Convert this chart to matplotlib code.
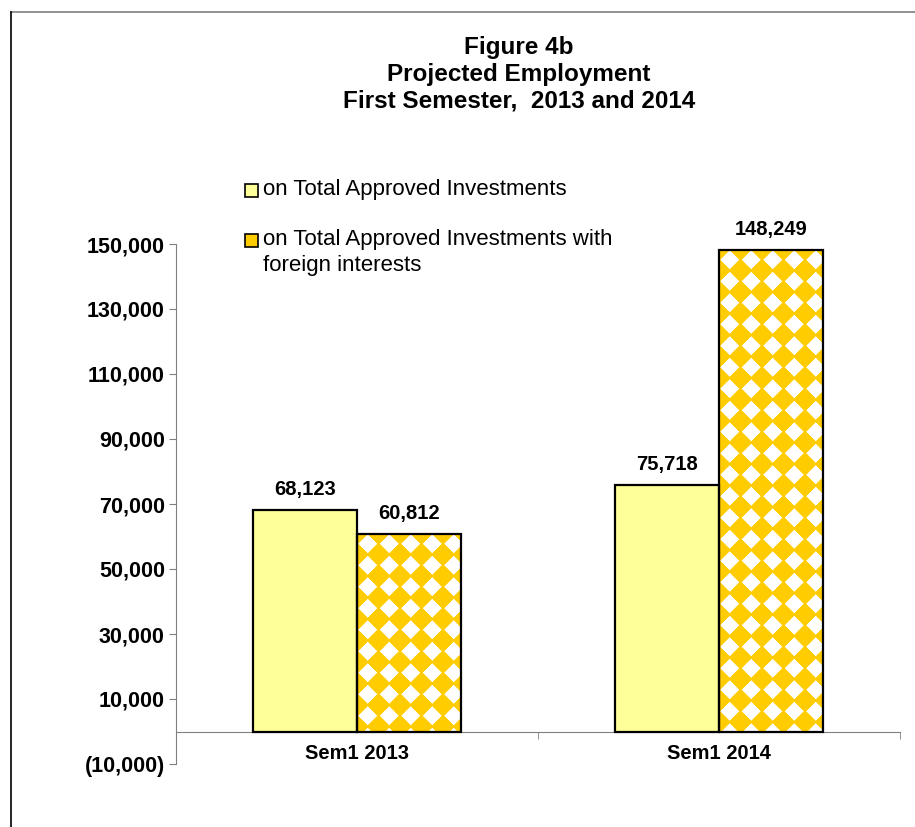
import numpy as np
import matplotlib
matplotlib.use("Agg")
import matplotlib.pyplot as plt
from matplotlib.lines import Line2D
from matplotlib.patches import Rectangle

plt.rcParams['font.family'] = ['Liberation Sans', 'DejaVu Sans']

# data
categories = ["Sem1 2013", "Sem1 2014"]
total_approved = [68123, 75718]
foreign_interests = [60812, 148249]
series_names = ["on Total Approved Investments",
                "on Total Approved Investments with\nforeign interests"]
yticks = list(range(-10000, 150001, 20000))

light_yellow = "#FFFF99"
gold = "#FFCC00"
gray = "#808080"

W, H = 915, 827
fig = plt.figure(figsize=(W / 100, H / 100), dpi=100)
ax = fig.add_axes([176 / W, 1 - 764 / H, (900 - 176) / W, (764 - 244) / H])
ax.set_xlim(-0.5, 1.5)
ax.set_ylim(-10000, 150000)

x = np.arange(len(categories))
bw = 0.286
b1 = ax.bar(x - bw / 2, total_approved, bw, color=light_yellow,
            edgecolor="black", linewidth=1.6, zorder=3)
b2 = ax.bar(x + bw / 2, foreign_interests, bw, facecolor="none",
            edgecolor="black", linewidth=1.6, zorder=4)


def diamond_pattern(w, h, period=21.5, r=9.3):
    yy, xx = np.mgrid[0:h, 0:w] + 0.5
    dx = np.abs((xx % period) - period / 2)
    dy = np.abs((yy % period) - period / 2)
    a = np.clip(r + 0.7 - (dx + dy), 0, 1)[..., None]
    g = np.array(matplotlib.colors.to_rgb(gold))
    return a * np.ones(3) + (1 - a) * g


# fill the patterned bars with a diamond texture
for rect in b2:
    x0, y0 = rect.get_x(), rect.get_y()
    x1, y1 = x0 + rect.get_width(), y0 + rect.get_height()
    (px0, py0), (px1, py1) = ax.transData.transform([(x0, y0), (x1, y1)])
    img = diamond_pattern(int(round(px1 - px0)), int(round(py1 - py0)))
    ax.imshow(img, extent=(x0, x1, y0, y1), origin="upper", aspect="auto",
              interpolation="nearest", zorder=2)
ax.set_xlim(-0.5, 1.5)
ax.set_ylim(-10000, 150000)

# value labels
for bars, vals in ((b1, total_approved), (b2, foreign_interests)):
    for rect, v in zip(bars, vals):
        ax.annotate(f"{v:,}", (rect.get_x() + rect.get_width() / 2, v),
                    xytext=(0, 8), textcoords="offset points",
                    ha="center", va="bottom", fontsize=14.5, fontweight="bold")

# axes styling
for s in ("top", "right"):
    ax.spines[s].set_visible(False)
ax.spines["left"].set_color(gray)
ax.spines["bottom"].set_position(("data", 0))
ax.spines["bottom"].set_color(gray)

ax.set_yticks(yticks)
ax.set_yticklabels([f"{v:,}" if v >= 0 else f"({-v:,})" for v in yticks],
                   fontsize=15.5, fontweight="bold")
ax.tick_params(axis="y", length=5, color=gray, pad=3)

ax.set_xticks(x)
ax.set_xticklabels(categories, fontsize=14.5, fontweight="bold")
ax.set_xticks([-0.5, 0.5, 1.5], minor=True)
ax.tick_params(axis="x", which="major", length=0, pad=9)
ax.tick_params(axis="x", which="minor", length=5, color=gray, direction="out")

# title
fig.text(519 / W, 1 - 74 / H,
         "Figure 4b\nProjected Employment\nFirst Semester,  2013 and 2014",
         ha="center", va="center", fontsize=17.5, fontweight="bold",
         linespacing=1.2)

# legend
leg_items = [(190, light_yellow, series_names[0]),
             (240, gold, series_names[1])]
for yc, col, lab in leg_items:
    fig.patches.append(Rectangle((245 / W, 1 - (yc + 6.5) / H), 13 / W, 13 / H,
                                 transform=fig.transFigure, facecolor=col,
                                 edgecolor="black", linewidth=1.2))
    for k, line in enumerate(lab.split("\n")):
        fig.text(263 / W, 1 - (yc + 26 * k) / H, line, ha="left",
                 va="center", fontsize=16)

# chart area border (top and left)
fig.add_artist(Line2D([11 / W, 1], [1 - 12 / H, 1 - 12 / H], color=gray,
                      linewidth=1.2, transform=fig.transFigure))
fig.add_artist(Line2D([11 / W, 11 / W], [0, 1 - 12 / H], color="black",
                      linewidth=1.2, transform=fig.transFigure))

fig.savefig("out.png", dpi=100)
